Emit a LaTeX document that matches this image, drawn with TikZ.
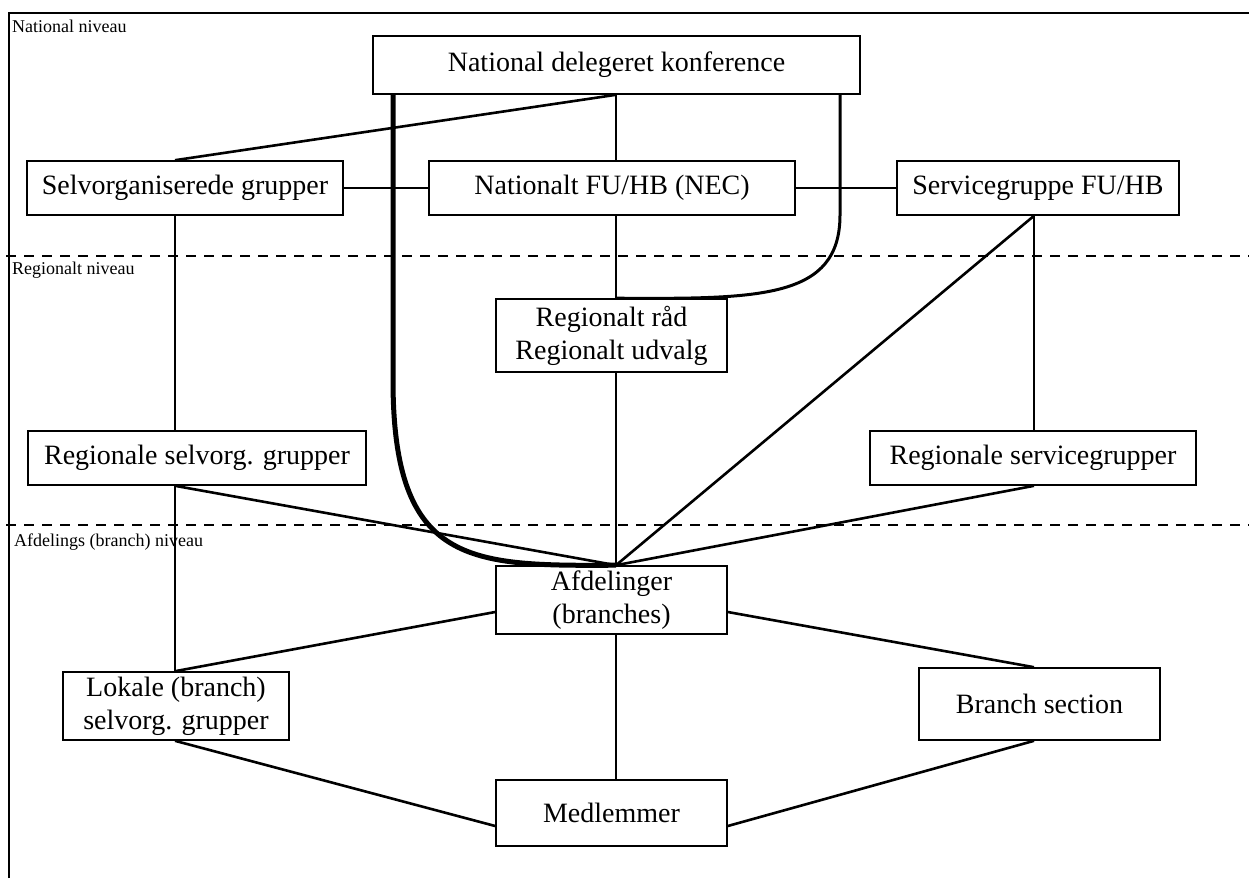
\documentclass[tikz,border=0pt]{standalone}
\usepackage{fontspec}
\setmainfont{Liberation Serif}
\begin{document}
\begin{tikzpicture}[x=1pt,y=-1pt,
  box/.style={draw, line width=1.6pt, inner sep=0pt, align=center,
    font=\fontsize{28}{33}\selectfont},
  conn/.style={line width=2.6pt},
  lvl/.style={anchor=west, inner sep=0pt, font=\fontsize{18}{20}\selectfont},
  sep/.style={line width=1.3pt, dash pattern=on 10pt off 8pt}]
\useasboundingbox (0,0) rectangle (1249,878);
% frame and level separators
\draw[line width=1.6pt] (9,878) -- (9,13) -- (1249,13);
\draw[sep] (6,256) -- (1249,256);
\draw[sep] (6,525) -- (1249,525);
\node[lvl] (l1) at (12,26) {National niveau};
\node[lvl] (l2) at (12,270) {Regionalt niveau};
\node[lvl] (l3) at (14,542) {Afdelings (branch) niveau};
% column coordinates
\coordinate (cL) at (175,0);
\coordinate (cM) at (616,0);
\coordinate (cR) at (1034,0);
\coordinate (cT) at (393,0);
\coordinate (cC) at (840,0);
% nodes
\node[box, minimum width=487, minimum height=58] (ndk) at (616.5,65) {National delegeret konference};
\node[box, minimum width=316, minimum height=54] (sel) at (185,188) {Selvorganiserede grupper};
\node[box, minimum width=366, minimum height=54] (nec) at (612,188) {Nationalt FU/HB (NEC)};
\node[box, minimum width=282, minimum height=54] (svc) at (1038,188) {Servicegruppe FU/HB};
\node[box, minimum width=231, minimum height=73] (rr) at (611.5,335.5) {Regionalt råd\\Regionalt udvalg};
\node[box, minimum width=338, minimum height=54] (rsel) at (197,458) {Regionale selvorg. grupper};
\node[box, minimum width=326, minimum height=54] (rsvc) at (1033,458) {Regionale servicegrupper};
\node[box, minimum width=231, minimum height=68] (afd) at (611.5,600) {Afdelinger\\(branches)};
\node[box, minimum width=226, minimum height=68] (lok) at (176,706) {Lokale (branch)\\selvorg. grupper};
\node[box, minimum width=241, minimum height=72] (bs) at (1039.5,704) {Branch section};
\node[box, minimum width=231, minimum height=66] (med) at (611.5,813) {Medlemmer};
% connectors
\draw[conn] (ndk.south -| cM) -- (sel.north -| cL);
\draw[conn] (ndk.south -| cM) -- (nec.north -| cM);
\draw[conn] (sel.east) -- (nec.west);
\draw[conn] (nec.east) -- (svc.west);
\draw[conn] (nec.south -| cM) -- (rr.north -| cM);
\draw[conn] (sel.south -| cL) -- (rsel.north -| cL);
\draw[conn] (svc.south -| cR) -- (rsvc.north -| cR);
\draw[conn] (svc.south -| cR) -- (afd.north -| cM);
\draw[conn] (rr.south -| cM) -- (afd.north -| cM);
\draw[conn] (rsel.south -| cL) -- (afd.north -| cM);
\draw[conn] (rsvc.south -| cR) -- (afd.north -| cM);
\draw[conn] (rsel.south -| cL) -- (lok.north -| cL);
\draw[conn] ([yshift=-12pt]afd.west) -- (lok.north -| cL);
\draw[conn] ([yshift=-12pt]afd.east) -- (bs.north -| cR);
\draw[conn] (afd.south -| cM) -- (med.north -| cM);
\draw[conn] (lok.south -| cL) -- ([yshift=-13pt]med.west);
\draw[conn] (bs.south -| cR) -- ([yshift=-13pt]med.east);
% curved links
\draw[line width=3pt] (ndk.south -| cC) -- (840,215) .. controls (840,299) and (760,299) .. (rr.north -| cM);
\draw[line width=5pt] (ndk.south -| cT) -- (393,380) .. controls (393,566) and (470,566) .. (afd.north -| cM);
\end{tikzpicture}
\end{document}
